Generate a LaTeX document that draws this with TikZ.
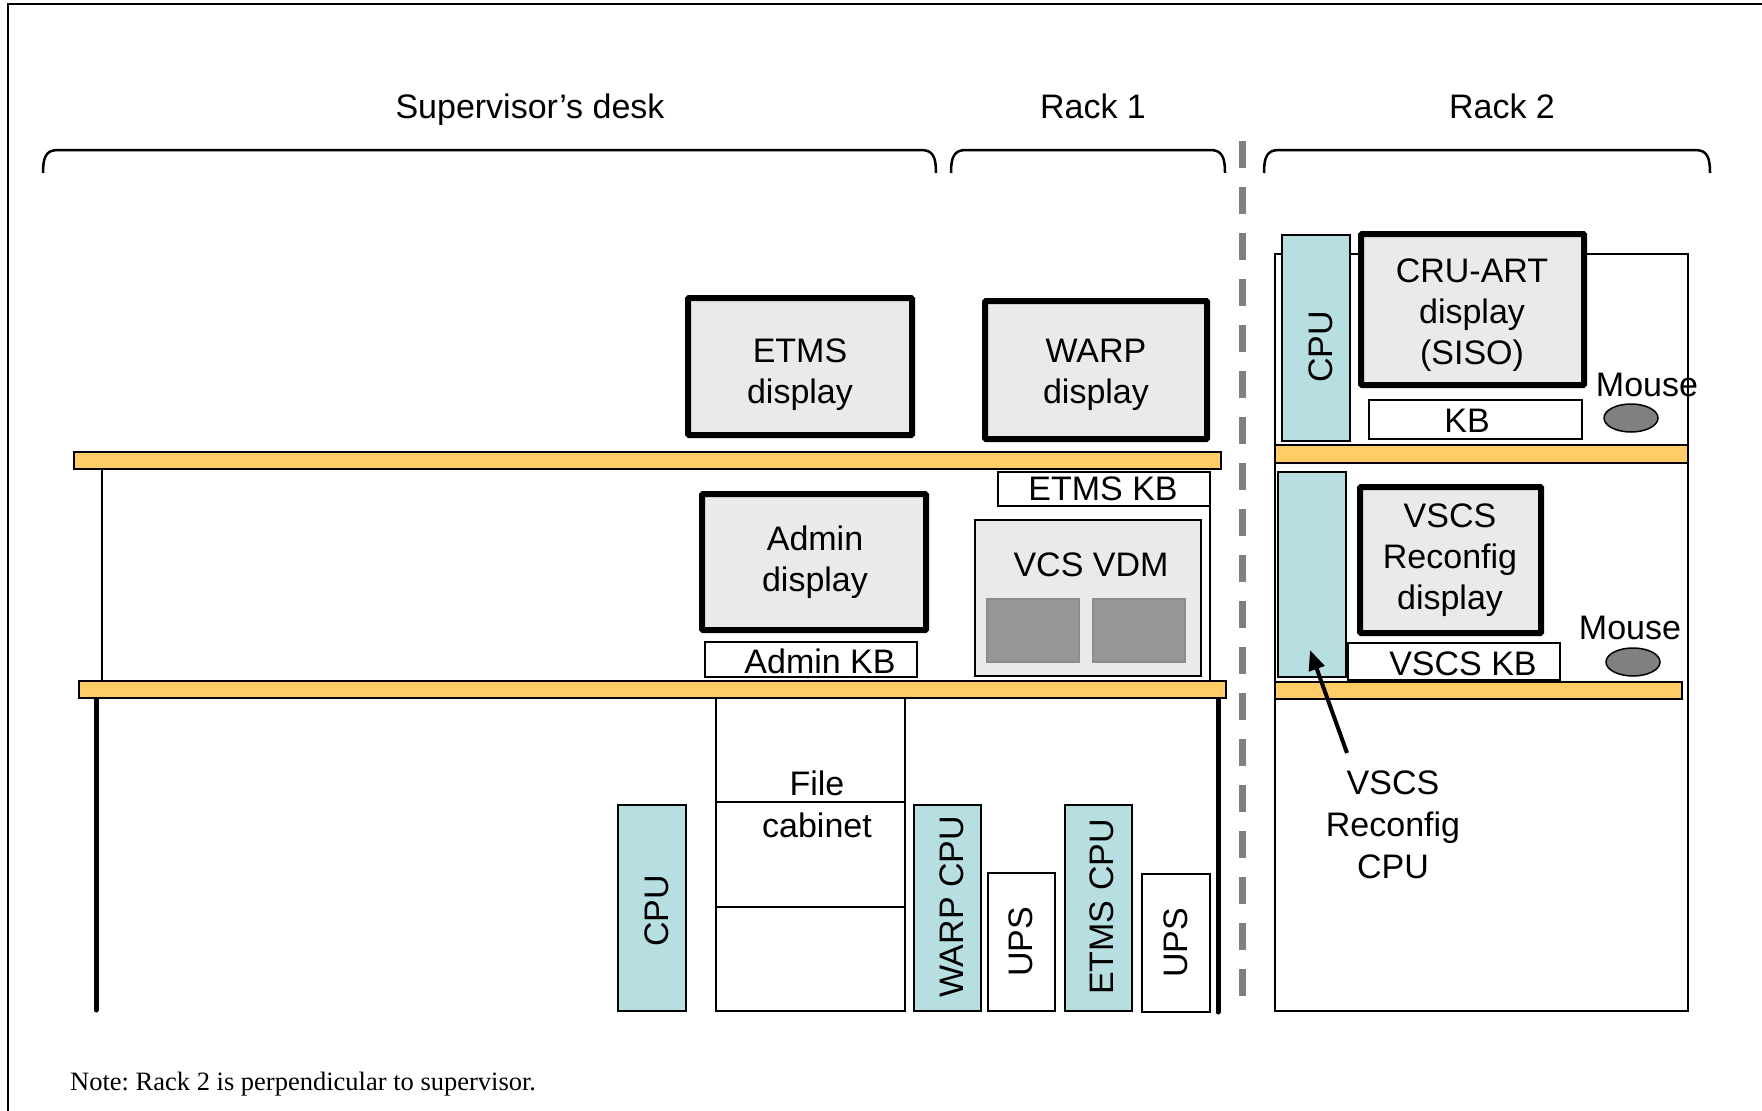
\documentclass[tikz,border=0pt]{standalone}
\usepackage{fontspec}
\setmainfont{Liberation Sans}
\newfontfamily\notefont{Liberation Serif}
\usetikzlibrary{arrows.meta,shapes.geometric}
\frenchspacing
\definecolor{shelfc}{HTML}{FFCC66}
\definecolor{cpuc}{HTML}{B7DFE1}
\definecolor{dispc}{HTML}{EAEAEA}
\definecolor{sqc}{HTML}{969696}
\definecolor{sqb}{HTML}{8C8C8C}
\definecolor{dashc}{HTML}{808080}
\definecolor{mousec}{HTML}{808080}
\tikzset{
  txt/.style={font=\fontsize{34}{41}\selectfont, align=center, inner sep=0pt},
  dispbox/.style={draw, line width=6pt, fill=dispc, inner sep=0pt, rounded corners=1pt},
  plainbox/.style={draw, line width=2pt, fill=white, inner sep=0pt},
  cpubox/.style={draw, line width=2pt, fill=cpuc, inner sep=0pt},
  vdmbox/.style={draw, line width=2pt, fill=dispc, inner sep=0pt},
  sqbox/.style={draw=sqb, line width=2pt, fill=sqc, inner sep=0pt},
  shelfbox/.style={draw, line width=2pt, fill=shelfc},
  legline/.style={line width=5pt, line cap=round},
  braceline/.style={line width=2.5pt},
  thinline/.style={line width=1.6pt},
  mouseshape/.style={ellipse, draw, line width=1.5pt, fill=mousec, inner sep=0pt, minimum width=54pt, minimum height=28pt},
  arrline/.style={line width=4pt, -{Triangle[length=20pt,width=16pt]}},
  sep/.style={dashc, line width=7pt, dash pattern=on 27pt off 19pt}
}
\begin{document}
\begin{tikzpicture}[x=1pt,y=-1pt]
\useasboundingbox (0,0) rectangle (1762,1111);
% frame
\draw[line width=2.5pt] (8,1111) -- (8,4) -- (1762,4);
% headings
\node[txt, anchor=base] (hdesk) at (530,118) {Supervisor’s desk};
\node[txt, anchor=base] (hrack1) at (1093,118) {Rack 1};
\node[txt, anchor=base] (hrack2) at (1502,118) {Rack 2};
% braces
\draw[braceline] (43,173) .. controls (43,157) and (46,150) .. (58,150) -- (921,150) .. controls (933,150) and (936,157) .. (936,173);
\draw[braceline] (951,173) .. controls (951,157) and (954,150) .. (966,150) -- (1210,150) .. controls (1222,150) and (1225,157) .. (1225,173);
\draw[braceline] (1264,173) .. controls (1264,157) and (1267,150) .. (1279,150) -- (1695,150) .. controls (1707,150) and (1710,157) .. (1710,173);
% separator
\draw[sep] (1242,141) -- (1242,1011);

% ===== desk + rack 1 =====
\draw[thinline] (102,469) -- (102,681);
\draw[thinline] (1210,507) -- (1210,681);
\draw[legline] (96,698) -- (96,1010);
\draw[legline] (1218,698) -- (1218,1012);
\draw[shelfbox] (74,452) rectangle (1221,469);
\draw[shelfbox] (79,681) rectangle (1226,698);

\node[dispbox, minimum width=224pt, minimum height=137pt] (etmsdisp) at (800,366.5) {};
\node[txt] (etmsdispt) at (800,375) {ETMS\\display};
\node[dispbox, minimum width=222pt, minimum height=138pt] (warpdisp) at (1096,370) {};
\node[txt] (warpdispt) at (1096,375) {WARP\\display};
\node[dispbox, minimum width=224pt, minimum height=136pt] (admindisp) at (814,562) {};
\node[txt] (admindispt) at (815,562) {Admin\\display};

\node[plainbox, minimum width=212pt, minimum height=35pt] (adminkb) at (811,659.5) {};
\node[txt] (adminkbt) at (820,661) {Admin KB};
\node[plainbox, minimum width=212pt, minimum height=34pt] (etmskb) at (1104,489) {};
\node[txt] (etmskbt) at (1103,489) {ETMS KB};

\node[vdmbox, minimum width=226pt, minimum height=156pt] (vdm) at (1088,598) {};
\node[txt] (vdmt) at (1091,565) {VCS VDM};
\node[sqbox, minimum width=92pt, minimum height=63pt] (vdmsq1) at (1033,630.5) {};
\node[sqbox, minimum width=92pt, minimum height=63pt] (vdmsq2) at (1139,630.5) {};

% file cabinet
\node[plainbox, minimum width=189pt, minimum height=104pt] (fc1) at (810.5,750) {};
\node[plainbox, minimum width=189pt, minimum height=105pt] (fc2) at (810.5,854.5) {};
\node[plainbox, minimum width=189pt, minimum height=104pt] (fc3) at (810.5,959) {};
\node[txt, font=\fontsize{34}{42}\selectfont] (fct) at (817,804) {File\\cabinet};

% CPUs and UPSs under desk
\node[cpubox, minimum width=68pt, minimum height=206pt] (cpu) at (652,908) {};
\node[txt, rotate=90] (cput) at (657,911) {CPU};
\node[cpubox, minimum width=67pt, minimum height=206pt] (warpcpu) at (947.5,908) {};
\node[txt, rotate=90] (warpcput) at (952,907) {WARP CPU};
\node[plainbox, minimum width=67pt, minimum height=138pt] (ups1) at (1021.5,942) {};
\node[txt, rotate=90] (ups1t) at (1021,942) {UPS};
\node[cpubox, minimum width=67pt, minimum height=206pt] (etmscpu) at (1098.5,908) {};
\node[txt, rotate=90] (etmscput) at (1102,907) {ETMS CPU};
\node[plainbox, minimum width=68pt, minimum height=138pt] (ups2) at (1176,943) {};
\node[txt, rotate=90] (ups2t) at (1176,943) {UPS};

% ===== rack 2 =====
\draw[line width=2pt] (1275,254) rectangle (1688,1011);
\draw[shelfbox] (1275,445) rectangle (1688,463);
\draw[shelfbox] (1275,682) rectangle (1682,699);

\node[cpubox, minimum width=68pt, minimum height=206pt] (r2cpu) at (1316,338) {};
\node[txt, rotate=90] (r2cput) at (1321,347) {CPU};
\node[dispbox, minimum width=223pt, minimum height=151pt] (cruart) at (1472.5,309.5) {};
\node[txt] (cruartt) at (1472,315) {CRU-ART\\display\\(SISO)};
\node[plainbox, minimum width=213pt, minimum height=39pt] (kb) at (1475.5,419.5) {};
\node[txt] (kbt) at (1467,421) {KB};
\node[mouseshape] (mouse1) at (1631,418) {};
\node[txt] (mouse1t) at (1647,385) {Mouse};

\node[cpubox, minimum width=68pt, minimum height=205pt] (vscscpu) at (1312,574.5) {};
\node[dispbox, minimum width=181pt, minimum height=146pt] (vscsdisp) at (1450.5,560) {};
\node[txt] (vscsdispt) at (1450,560) {VSCS\\Reconfig\\display};
\node[plainbox, minimum width=212pt, minimum height=37pt] (vscskb) at (1454,661.5) {};
\node[txt] (vscskbt) at (1463,664) {VSCS KB};
\node[mouseshape] (mouse2) at (1633,662) {};
\node[txt] (mouse2t) at (1630,628) {Mouse};

\node[txt, font=\fontsize{34}{42}\selectfont] (vscscpulbl) at (1393,825) {VSCS\\Reconfig\\CPU};
\coordinate (arrstart) at (1347,753);
\coordinate (arrtip) at (1310,650);
\draw[arrline] (arrstart) -- (arrtip);

% note
\node[anchor=base west, inner sep=0pt, font=\notefont\fontsize{26.5}{30}\selectfont] (note) at (70,1090) {Note: Rack 2 is perpendicular to supervisor.};
\end{tikzpicture}
\end{document}
